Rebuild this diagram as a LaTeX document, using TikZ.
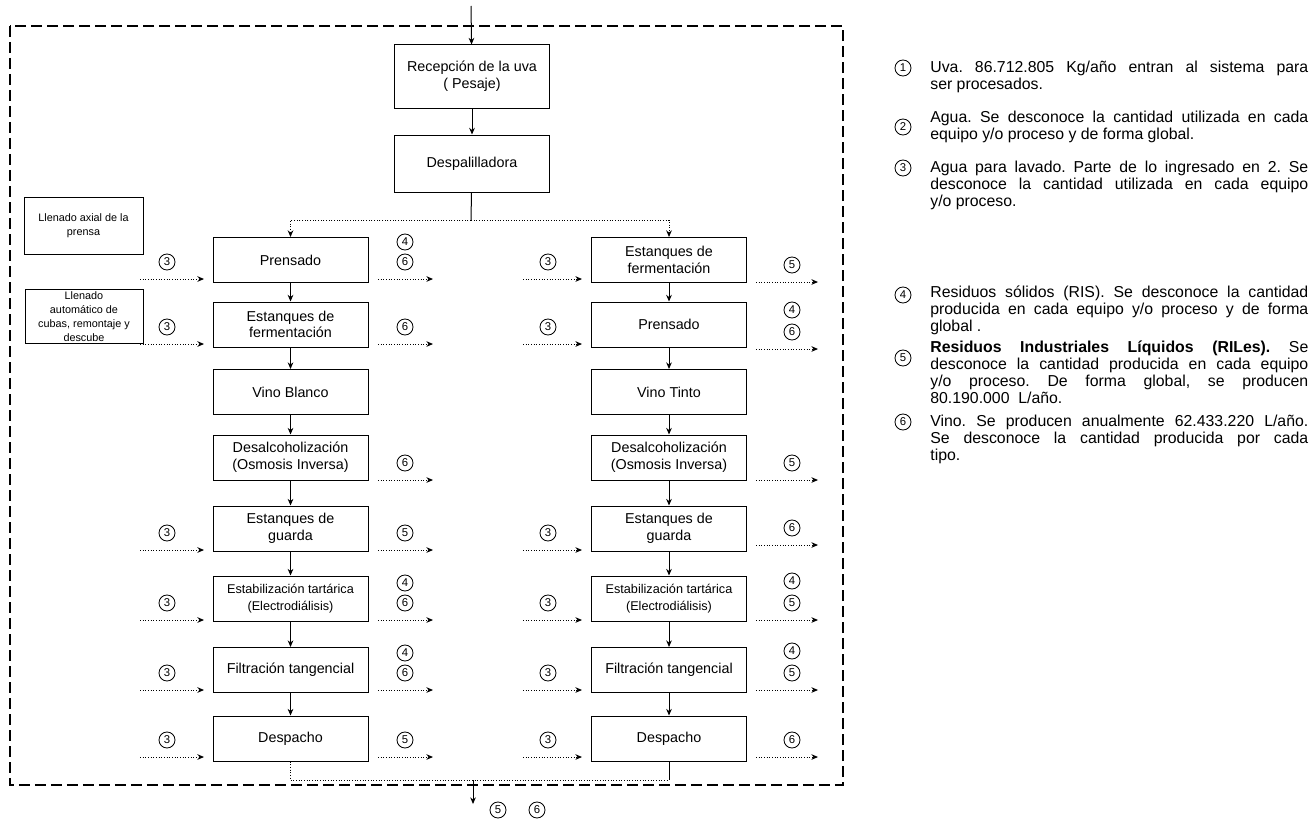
\documentclass[tikz,border=0pt]{standalone}
\usepackage{fontspec}
\setmainfont{Liberation Sans}
\usetikzlibrary{arrows.meta}
\frenchspacing
\hyphenpenalty=10000
\tolerance=10000

\tikzset{
  proc/.style={draw, line width=0.6pt, minimum width=93pt, minimum height=27pt,
    align=center, inner sep=1pt},
  note/.style={draw, line width=0.6pt, align=center, inner sep=1pt,
    font=\fontsize{6.5}{8.4}\selectfont},
  num/.style={draw, circle, line width=0.5pt, minimum size=9.6pt, inner sep=0pt,
    font=\fontsize{6.8}{6.8}\selectfont},
  flow/.style={line width=0.6pt, -{Stealth[length=4pt,width=3.4pt]}},
  side/.style={flow, densely dotted},
  legend/.style={anchor=base west, text width=226.8pt, align=justify, inner sep=0pt,
    font=\fontsize{9.5}{10.2}\selectfont}
}

\begin{document}
\begin{tikzpicture}[x=0.6pt, y=-0.6pt]
    \useasboundingbox (0,0) rectangle (1313,818);
    \draw[dash pattern=on 6.6pt off 3pt, line width=0.8pt] (10,26) rectangle (843,785);

    \node[proc, minimum height=37.8pt, font=\fontsize{8.6}{10}\selectfont] (rec) at (472,76.5) {Recepción de la uva\\( Pesaje)};
    \node[proc, minimum height=34.2pt, font=\fontsize{8.6}{10}\selectfont] (desp) at (472,163.5) {Despalilladora};

    \node[note, minimum width=71.4pt, minimum height=34.2pt] (axial) at (83.5,225.5) {Llenado axial de la\\prensa};
    \node[note, minimum width=70.8pt, minimum height=31.8pt] (cubas) at (84,316.5) {Llenado\\automático de\\cubas, remontaje y\\descube};

    \foreach \nm/\yy/\fs/\txt in {1/260/8.6/Prensado, 2/324.5/8.6/{Estanques de\\fermentación},
        3/392/8.6/Vino Blanco, 4/457.5/8.6/{Desalcoholización\\(Osmosis Inversa)},
        5/528.5/8.6/{Estanques de\\guarda}, 6/598.5/7.6/{Estabilización tartárica\\(Electrodiálisis)},
        7/670/8.6/Filtración tangencial, 8/738.5/8.6/Despacho}
      \node[proc, font=\fontsize{\fs}{10}\selectfont] (L\nm) at (290.5,\yy) {\txt};

    \foreach \nm/\yy/\fs/\txt in {1/260/8.6/{Estanques de\\fermentación}, 2/324.5/8.6/Prensado,
        3/392/8.6/Vino Tinto, 4/457.5/8.6/{Desalcoholización\\(Osmosis Inversa)},
        5/528.5/8.6/{Estanques de\\guarda}, 6/598.5/7.6/{Estabilización tartárica\\(Electrodiálisis)},
        7/670/8.6/Filtración tangencial, 8/738.5/8.6/Despacho}
      \node[proc, font=\fontsize{\fs}{10}\selectfont] (R\nm) at (669,\yy) {\txt};

    \coordinate (in) at (471,6);
    \coordinate (split) at (471,220);
    \coordinate (mL) at (290.5,780);
    \coordinate (mR) at (669,780);
    \coordinate (out) at (473,780);
    \coordinate (outend) at (473,804);

    \draw[flow] (in) -- (rec);
    \draw[flow] (rec) -- (desp);
    \draw[line width=0.6pt] (desp) -- (split);
    \draw[flow, densely dotted] (split) -| (L1);
    \draw[flow, densely dotted] (split) -| (R1);

    \foreach \i [count=\j from 2] in {1,...,7}
      {
        \draw[flow] (L\i) -- (L\j);
        \draw[flow] (R\i) -- (R\j);
      }

    \draw[line width=0.6pt, densely dotted] (L8) -- (mL) -- (mR);
    \draw[line width=0.6pt] (mR) -- (R8);
    \draw[flow] (out) -- (outend);
    \node[num] (o5) at (498,810) {5};
    \node[num] (o6) at (537,810) {6};

    \foreach \yy [count=\k] in {279,344,550,620,690,757}
      {
        \draw[side] (140,\yy) -- (204,\yy);
        \node[num] (wL\k) at (167,\yy-17) {3};
        \draw[side] (523,\yy) -- (582,\yy);
        \node[num] (wR\k) at (548,\yy-17) {3};
      }

    \foreach \yy/\n [count=\k] in {279/6,344/6,480/6,550/5,620/6,690/6,757/5}
      {
        \draw[side] (378,\yy) -- (433,\yy);
        \node[num] (sL\k) at (405,\yy-17) {\n};
      }
    \foreach \yy [count=\k] in {279,620,690}
      \node[num] (rL\k) at (405,\yy-37) {4};

    \foreach \yy/\n [count=\k] in {282/5,349/6,480/5,545/6,620/5,690/5,757/6}
      {
        \draw[side] (756,\yy) -- (818,\yy);
        \node[num] (sR\k) at (792,\yy-17) {\n};
      }
    \foreach \yy [count=\k] in {349,620,690}
      \node[num] (rR\k) at (792,\yy-39) {4};

    \foreach \k/\yy in {1/68,2/127,3/168,4/295,5/358,6/422}
      \node[num] (k\k) at (903,\yy) {\k};

    \node[legend] (t1) at (930,72) {Uva. 86.712.805 Kg/año entran al sistema para\linebreak ser procesados.};
    \node[legend] (t2) at (930,122) {Agua. Se desconoce la cantidad utilizada en cada\linebreak equipo y/o proceso y de forma global.};
    \node[legend] (t3) at (930,172) {Agua para lavado. Parte de lo ingresado en 2. Se\linebreak desconoce la cantidad utilizada en cada equipo\linebreak y/o proceso.};
    \node[legend] (t4) at (930,297) {Residuos sólidos (RIS). Se desconoce la cantidad\linebreak producida en cada equipo y/o proceso y de forma\linebreak global .};
    \node[legend] (t5) at (930,352) {\textbf{Residuos Industriales Líquidos (RILes).} Se\linebreak desconoce la cantidad producida en cada equipo\linebreak y/o proceso. De forma global, se producen\linebreak 80.190.000~~L/año.};
    \node[legend] (t6) at (930,426) {Vino. Se producen anualmente 62.433.220 L/año.\linebreak Se desconoce la cantidad producida por cada\linebreak tipo.};
\end{tikzpicture}
\end{document}
